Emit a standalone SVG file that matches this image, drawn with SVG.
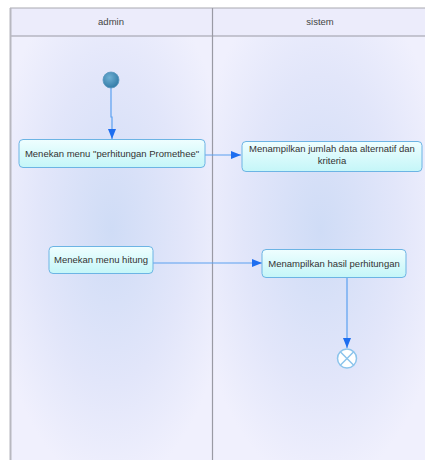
<svg xmlns="http://www.w3.org/2000/svg" width="425" height="460" viewBox="0 0 425 460">
<style>
.lbl{font-family:"Liberation Sans",Arial,sans-serif;font-size:9.5px;fill:#333;text-anchor:middle}
.hdr{font-family:"Liberation Sans",Arial,sans-serif;font-size:9.5px;fill:#444;text-anchor:middle}
.act{fill:url(#actG);stroke:#6cb4e4;stroke-width:1}
.con{fill:none;stroke:#5aa0f0;stroke-width:1.2}
</style>
<defs>
<radialGradient id="laneG" cx="0.5" cy="0.45" r="0.6">
<stop offset="0" stop-color="#cfdcf6"/>
<stop offset="0.6" stop-color="#e2e6fa"/>
<stop offset="1" stop-color="#f0f0fd"/>
</radialGradient>
<linearGradient id="actG" x1="0" y1="0" x2="0" y2="1">
<stop offset="0" stop-color="#effeff"/>
<stop offset="1" stop-color="#c4f6f8"/>
</linearGradient>
<radialGradient id="startG" cx="0.4" cy="0.35" r="0.7">
<stop offset="0" stop-color="#6fb0d4"/>
<stop offset="1" stop-color="#2f78a4"/>
</radialGradient>
<marker id="arr" viewBox="0 0 10 10" refX="10" refY="5" markerWidth="10" markerHeight="10" markerUnits="userSpaceOnUse" orient="auto">
<path d="M0,1 L10,5 L0,9 Z" fill="#1e6ef0"/>
</marker>
</defs>
<rect width="425" height="460" fill="#fff"/>
<g id="lanes">
<rect x="10" y="36" width="203" height="430" fill="url(#laneG)"/>
<rect x="213" y="36" width="215" height="430" fill="url(#laneG)"/>
<rect x="10" y="8" width="418" height="28" fill="#ececfb"/>
<line x1="10" y1="8" x2="425" y2="8" stroke="#a8a8b0" stroke-width="1"/>
<line x1="10" y1="36" x2="425" y2="36" stroke="#9a9aa4" stroke-width="1"/>
<line x1="10.5" y1="8" x2="10.5" y2="460" stroke="#b8b8c0" stroke-width="2"/>
<line x1="212.5" y1="8" x2="212.5" y2="460" stroke="#9a9aa4" stroke-width="1.2"/>
<text class="hdr" x="111" y="25">admin</text>
<text class="hdr" x="320" y="25">sistem</text>
</g>
<g id="connectors">
<path class="con" d="M111,88 V117 H112 V139" marker-end="url(#arr)"/>
<path class="con" d="M205,155 H241" marker-end="url(#arr)"/>
<path class="con" d="M153,263 H262" marker-end="url(#arr)"/>
<path class="con" d="M347,277 V348" marker-end="url(#arr)"/>
</g>
<g id="start">
<circle cx="111" cy="80" r="8" fill="url(#startG)" stroke="#5a98c0" stroke-width="0.8"/>
</g>
<g id="n1">
<rect class="act" x="19" y="139.5" width="186" height="28" rx="4"/>
<text class="lbl" x="112" y="157">Menekan menu "perhitungan Promethee"</text>
</g>
<g id="n2">
<rect class="act" x="242" y="141.5" width="180" height="30" rx="4"/>
<text class="lbl" x="332" y="152">Menampilkan jumlah data alternatif  dan</text>
<text class="lbl" x="332" y="164">kriteria</text>
</g>
<g id="n3">
<rect class="act" x="49" y="246.5" width="104" height="27" rx="4"/>
<text class="lbl" x="101" y="263">Menekan menu hitung</text>
</g>
<g id="n4">
<rect class="act" x="262" y="249.5" width="144" height="28" rx="4"/>
<text class="lbl" x="334" y="267">Menampilkan hasil perhitungan</text>
</g>
<g id="end">
<circle cx="347" cy="358.5" r="9.5" fill="#fff" stroke="#8cc4ec" stroke-width="1.5"/>
<path d="M340.3,351.8 L353.7,365.2 M353.7,351.8 L340.3,365.2" stroke="#8cc4ec" stroke-width="1.5"/>
</g>
</svg>
